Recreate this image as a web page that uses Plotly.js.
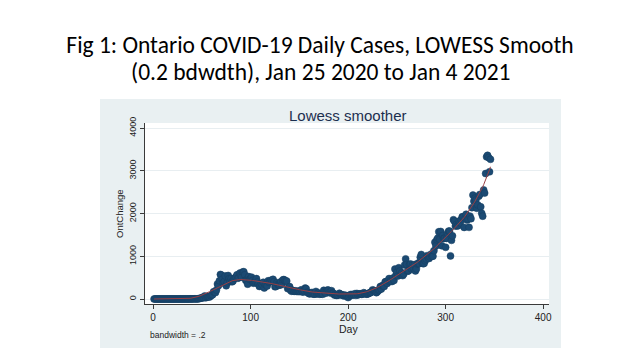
<!DOCTYPE html>
<html>
<head>
<meta charset="utf-8">
<script src="https://cdn.plot.ly/plotly-3.0.1.min.js"></script>
<style>
  html, body { margin: 0; padding: 0; background: #ffffff; }
  #wrap { position: relative; width: 640px; height: 360px; }
  #panel { position: absolute; left: 100px; top: 99px; width: 461px; height: 249px; background: #e9f0f2; }
  #chart { position: absolute; left: 0; top: 0; width: 640px; height: 360px; }
</style>
</head>
<body>
<div id="wrap">
  <div id="panel"></div>
  <div id="chart"></div>
</div>
<script>
// Daily change in Ontario cases, day 1 = Jan 25 2020
const ontChange = [
  // days 1-36
  1,0,0,0,0,0,1,0,0,0, 0,0,0,0,0,0,0,0,0,0, 0,0,0,0,0,0,0,1,0,0, 1,0,1,1,0,0,
  // 37-45
  0,3,2,2,3,4,5,1,3,
  // 46-52
  6,5,17,20,24,42,32,
  // 53-60
  72,28,44,50,50,49,78,85,
  // 61-340 (weeks)
  100,170,166,151,211,351,313,
  426,575,560,462,375,408,540,
  309,379,550,478,411,478,401,
  421,483,494,514,565,485,502,
  606,551,510,634,640,567,437,
  424,347,525,460,459,511,434,
  370,387,412,477,399,346,294,
  308,361,329,391,258,340,346,
  304,427,390,413,441,412,460,
  404,287,292,383,344,323,326,
  404,338,446,455,440,415,420,
  243,251,290,203,182,203,184,
  181,190,177,184,173,182,176,
  215,168,161,189,255,240,157,
  153,124,121,138,154,118,112,
  118,178,116,129,138,111,116,
  130,111,203,164,135,195,210,
  205,165,138,195,144,129,93,
  107,83,89,91,134,110,104,
  86,95,70,88,75,70,33,
  61,95,108,90,105,98,125,
  85,131,95,111,120,121,108,
  118,148,132,122,114,120,128,
  146,148,170,213,202,190,185,
  149,170,204,213,292,232,313,
  315,293,401,407,365,425,478,
  409,435,409,491,435,700,554,
  625,538,732,653,566,615,548,
  583,797,939,809,649,659,807,
  821,704,783,712,805,658,704,
  821,841,826,978,1042,851,827,
  834,896,934,1015,977,948,987,
  1050,998,1003,1132,1328,1242,1388,
  1426,1575,1396,1581,1248,1487,1417,
  1423,1210,1418,1534,1588,1589,1009,
  1373,1478,1855,1822,1708,1746,1707,
  1723,1824,1780,1859,1924,1925,1676,
  1890,1983,1848,1873,1677,1940,1880,
  2139,2432,2290,2357,2316,2123,2202,
  2408,2447,2159,2005,1939,2553,2480,
  // 341-346
  2937,3328,3363,3310,2977,3270
];
const firstDay = 1;
const day = ontChange.map((_, i) => firstDay + i);

const xTicks = [0, 100, 200, 300, 400];
const yTicks = [0, 1000, 2000, 3000, 4000];
const bandwidth = 0.2;

// Stata-style lowess (tricube weights, local linear, no robustness iterations)
function lowess(x, y, bw) {
  const N = x.length;
  const k = Math.floor((N * bw - 0.5) / 2);
  const out = [];
  for (let i = 0; i < N; i++) {
    const lo = Math.max(0, i - k), hi = Math.min(N - 1, i + k);
    const delta = 1.0001 * Math.max(x[hi] - x[i], x[i] - x[lo]);
    let sw = 0, swx = 0, swy = 0, swxx = 0, swxy = 0;
    for (let j = lo; j <= hi; j++) {
      const u = Math.abs(x[j] - x[i]) / delta;
      const w = u < 1 ? Math.pow(1 - u * u * u, 3) : 0;
      sw += w; swx += w * x[j]; swy += w * y[j];
      swxx += w * x[j] * x[j]; swxy += w * x[j] * y[j];
    }
    const mx = swx / sw, my = swy / sw;
    const vx = swxx / sw - mx * mx;
    const b = vx > 0 ? (swxy / sw - mx * my) / vx : 0;
    out.push(my + b * (x[i] - mx));
  }
  return out;
}
const smooth = lowess(day, ontChange, bandwidth);

const stataFont = 'Liberation Sans, Arial, sans-serif';
const slideFont = 'Carlito, Lato, sans-serif';

const traces = [
  {
    x: day, y: ontChange, type: 'scatter', mode: 'markers',
    marker: { size: 7, color: '#1b4a73', line: { color: '#163e60', width: 0.5 } },
    hoverinfo: 'skip', showlegend: false
  },
  {
    x: day, y: smooth, type: 'scatter', mode: 'lines',
    line: { color: '#9a3f44', width: 1 },
    hoverinfo: 'skip', showlegend: false
  }
];

const layout = {
  width: 640, height: 360,
  margin: { l: 145, r: 91, t: 123, b: 56, pad: 0 },
  paper_bgcolor: 'rgba(0,0,0,0)',
  plot_bgcolor: '#ffffff',
  showlegend: false,
  title: {
    text: 'Fig 1: Ontario COVID-19 Daily Cases, LOWESS Smooth',
    font: { family: slideFont, size: 23.5, color: '#000000' },
    x: 0.5, xref: 'container', xanchor: 'center',
    y: 1 - 45 / 360, yref: 'container', yanchor: 'middle'
  },
  xaxis: {
    range: [-8.3, 406], tickvals: xTicks, ticktext: xTicks.map(String),
    showgrid: false, zeroline: false, showline: true, linecolor: '#3a3a3a', linewidth: 1,
    ticks: 'outside', ticklen: 4, tickcolor: '#3a3a3a',
    tickfont: { family: stataFont, size: 10, color: '#222' }
  },
  yaxis: {
    range: [-117, 4120], tickvals: yTicks, ticktext: yTicks.map(String),
    showgrid: true, gridcolor: '#e8eef1', gridwidth: 1,
    zeroline: false, showline: true, linecolor: '#3a3a3a', linewidth: 1,
    ticks: 'outside', ticklen: 4, tickcolor: '#3a3a3a', tickangle: -90,
    tickfont: { family: stataFont, size: 9, color: '#222' }
  },
  annotations: [
    { text: '(0.2 bdwdth), Jan 25 2020 to Jan 4 2021', xref: 'paper', yref: 'paper',
      x: (320 - 145) / 404, y: (304 - 72) / 181,
      xanchor: 'center', yanchor: 'middle', showarrow: false,
      font: { family: slideFont, size: 23.5, color: '#000000' } },
    { text: 'Lowess smoother', xref: 'paper', yref: 'paper', x: 0.5025, y: 1.044,
      xanchor: 'center', yanchor: 'middle', showarrow: false,
      font: { family: stataFont, size: 15, color: '#1c2f4f' } },
    { text: 'OntChange', xref: 'paper', yref: 'paper', x: -0.0631, y: 0.5,
      xanchor: 'center', yanchor: 'middle', showarrow: false, textangle: -90,
      font: { family: stataFont, size: 9.5, color: '#222' } },
    { text: 'Day', xref: 'paper', yref: 'paper', x: 0.5025, y: (304 - 329) / 181,
      xanchor: 'center', yanchor: 'middle', showarrow: false,
      font: { family: stataFont, size: 10.5, color: '#222' } },
    { text: 'bandwidth = .2', xref: 'paper', yref: 'paper', x: 0.0074, y: (304 - 335) / 181,
      xanchor: 'left', yanchor: 'middle', showarrow: false,
      font: { family: stataFont, size: 8.5, color: '#222' } }
  ]
};

Plotly.newPlot('chart', traces, layout, { displayModeBar: false, staticPlot: true });
</script>
</body>
</html>
